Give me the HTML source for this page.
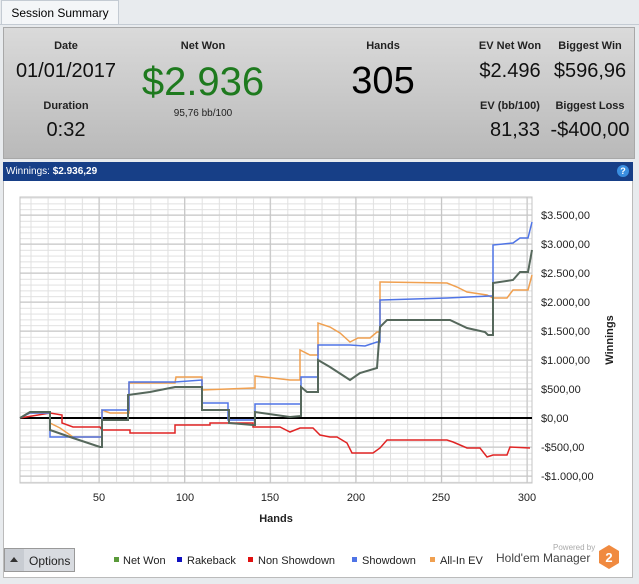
<!DOCTYPE html>
<html><head><meta charset="utf-8"><style>
body{margin:0;width:639px;height:584px;background:#e8ebee;font-family:"Liberation Sans",sans-serif;position:relative;overflow:hidden}
.a{position:absolute}
.tab{left:1px;top:0;width:116px;height:24px;background:#f4f6f8;border:1px solid #c4cbd3;border-bottom:none;font-size:12px;line-height:24px;text-align:center}
.panel{left:3px;top:27px;width:630px;height:130px;background:linear-gradient(#dadada,#b9b9b9);border:1px solid #a8a8a8}
.lbl{font-size:11px;font-weight:bold;color:#222;text-align:center}
.big{font-size:20px;color:#111;text-align:center}
</style></head><body>
<div class="a tab">Session Summary</div>
<div class="a" style="left:0;top:24px;width:639px;height:1px;background:#c4cbd3"></div>
<div class="a panel"></div>
<div class="a lbl" style="left:16px;top:40px;width:100px">Date</div>
<div class="a big" style="left:6px;top:60px;width:120px">01/01/2017</div>
<div class="a lbl" style="left:16px;top:100px;width:100px">Duration</div>
<div class="a big" style="left:16px;top:119px;width:100px">0:32</div>
<div class="a lbl" style="left:153px;top:40px;width:100px">Net Won</div>
<div class="a" style="left:133px;top:60px;width:140px;text-align:center;font-size:40px;color:#1e7a1e">$2.936</div>
<div class="a" style="left:153px;top:108px;width:100px;text-align:center;font-size:10px;color:#222">95,76 bb/100</div>
<div class="a lbl" style="left:333px;top:40px;width:100px">Hands</div>
<div class="a" style="left:333px;top:60px;width:100px;text-align:center;font-size:38px;color:#000">305</div>
<div class="a lbl" style="left:465px;top:40px;width:90px">EV Net Won</div>
<div class="a big" style="left:465px;top:60px;width:90px">$2.496</div>
<div class="a lbl" style="left:540px;top:40px;width:100px">Biggest Win</div>
<div class="a big" style="left:538px;top:60px;width:104px">$596,96</div>
<div class="a lbl" style="left:465px;top:100px;width:90px">EV (bb/100)</div>
<div class="a big" style="left:470px;top:119px;width:90px">81,33</div>
<div class="a lbl" style="left:540px;top:100px;width:100px">Biggest Loss</div>
<div class="a big" style="left:538px;top:119px;width:104px">-$400,00</div>
<div class="a" style="left:3px;top:162px;width:630px;height:19px;background:#173f87;color:#fff;font-size:10px;line-height:19px;padding-left:3px;box-sizing:border-box">Winnings: <b>$2.936,29</b></div>
<div class="a" style="left:617px;top:165px;width:12px;height:12px;border-radius:6px;background:#3a8ee0;color:#fff;font-size:9px;font-weight:bold;text-align:center;line-height:12px">?</div>
<div class="a" style="left:3px;top:181px;width:630px;height:397px;background:#fff;border:1px solid #bbb;border-top:none;box-sizing:border-box"></div>
<svg class="a" style="left:0;top:0" width="639" height="584">
<defs>
<pattern id="gv" patternUnits="userSpaceOnUse" x="30.5" y="0" width="17.12" height="600"><line x1="0.5" x2="0.5" y1="0" y2="600" stroke="#e0e0e0"/></pattern>
<pattern id="gh" patternUnits="userSpaceOnUse" x="0" y="418" width="700" height="5.8"><line x1="0" x2="700" y1="0.5" y2="0.5" stroke="#e0e0e0"/></pattern>
</defs>
<rect x="20" y="197" width="512" height="286" fill="url(#gh)"/>
<rect x="20" y="197" width="512" height="286" fill="url(#gv)"/>
<g stroke="#c4c4c4">
<path d="M20,476H532M20,447H532M20,389H532M20,360H532M20,331H532M20,302H532M20,273H532M20,244H532M20,215H532"/>
<path d="M99,197V483M184.6,197V483M270.2,197V483M355.8,197V483M441.4,197V483M527,197V483"/>
</g>
<rect x="20" y="197" width="512" height="286" fill="none" stroke="#c4c4c4"/>
<line x1="20" x2="532" y1="418" y2="418" stroke="#000" stroke-width="2"/>
<g fill="none" stroke-width="1.5">
<path stroke="#e02424" d="M20,418 L50,413 L62,415 V423 L73,427 H100 L102,430 H130 V433 H175 V425 H210 V423 H253 V427 H280 L290,432 L300,428 H313 L320,435 L330,437 L337,437 L347,443 L352,453 H373 L380,448 L387,440 H447 L453,442 L467,448 H480 L487,457 L493,455 H507 L510,447 L530,448"/>
<path stroke="#f0a050" d="M20,418 L30,413 H50 V423 L60,428 L73,437 H102 V410 L110,413 H129 V383 H175 L176,377 H202 V390 L253,388 H255 V376 L290,380 H300 V350 L310,355 H318 V323 L330,327 L340,333 L350,342 L358,338 L370,338 L377,332 H380 V282 L447,283 L457,287 L467,292 L487,295 L493,298 L507,298 L513,290 L528,290 L532,275"/>
<path stroke="#4f74e6" d="M20,418 L30,413 H50 V437 H102 V410 H129 V382 H175 L202,380 V403 H228 V420 H255 V404 H301 V377 H318 V345 H350 L365,346 L377,342 H380 V300 L447,298 L490,296 H493 V245 L513,243 L520,238 H528 L532,222"/>
<path stroke="#56685c" stroke-width="2" d="M20,418 L30,412 H50 V430 L73,438 L100,447 H102 V420 H128 V395 L150,392 L175,387 H202 V410 H229 V423 L253,425 H255 V412 L290,417 L301,416 V387 L307,392 H318 V360 L330,367 L350,380 L360,373 L377,368 L380,327 L387,320 H450 L467,328 L485,332 L488,335 H493 V283 L513,280 L520,272 H528 L532,250"/>
</g>
<g font-size="11" fill="#222">
<text x="541" y="219">$3.500,00</text><text x="541" y="248">$3.000,00</text><text x="541" y="277">$2.500,00</text><text x="541" y="306">$2.000,00</text><text x="541" y="335">$1.500,00</text><text x="541" y="364">$1.000,00</text><text x="541" y="393">$500,00</text><text x="541" y="422">$0,00</text><text x="541" y="451">-$500,00</text><text x="541" y="480">-$1.000,00</text>
</g>
<g font-size="11" fill="#222" text-anchor="middle">
<text x="99" y="501">50</text><text x="185" y="501">100</text><text x="270" y="501">150</text><text x="356" y="501">200</text><text x="441" y="501">250</text><text x="527" y="501">300</text>
<text x="276" y="522" font-weight="bold">Hands</text>
<text transform="translate(613,340) rotate(-90)" font-weight="bold">Winnings</text>
</g>
<g font-size="11" fill="#222">
<rect x="114" y="557" width="5" height="5" fill="#5a9a3a"/><text x="123" y="564">Net Won</text>
<rect x="177" y="557" width="5" height="5" fill="#1010c0"/><text x="187" y="564">Rakeback</text>
<rect x="248" y="557" width="5" height="5" fill="#e01010"/><text x="258" y="564">Non Showdown</text>
<rect x="352" y="557" width="5" height="5" fill="#4f74e6"/><text x="362" y="564">Showdown</text>
<rect x="430" y="557" width="5" height="5" fill="#f0a050"/><text x="440" y="564">All-In EV</text>
<text x="496" y="562" font-size="12" fill="#444">Hold'em Manager</text>
<text x="553" y="550" font-size="8" fill="#aaa">Powered by</text>
<polygon points="609,545 619,551 619,563 609,569 599,563 599,551" fill="#f08a40"/>
<text x="609" y="562" font-size="13" font-weight="bold" fill="#fff" text-anchor="middle">2</text>
</g>
<rect x="4.5" y="548.5" width="70" height="23" fill="#d8dbe0" stroke="#999"/>
<rect x="5" y="549" width="19" height="22" fill="#c8ccd2"/>
<polygon points="10,562 14,557 18,562" fill="#333"/>
<text x="29" y="565" font-size="12" fill="#222">Options</text>
</svg>
</body></html>
